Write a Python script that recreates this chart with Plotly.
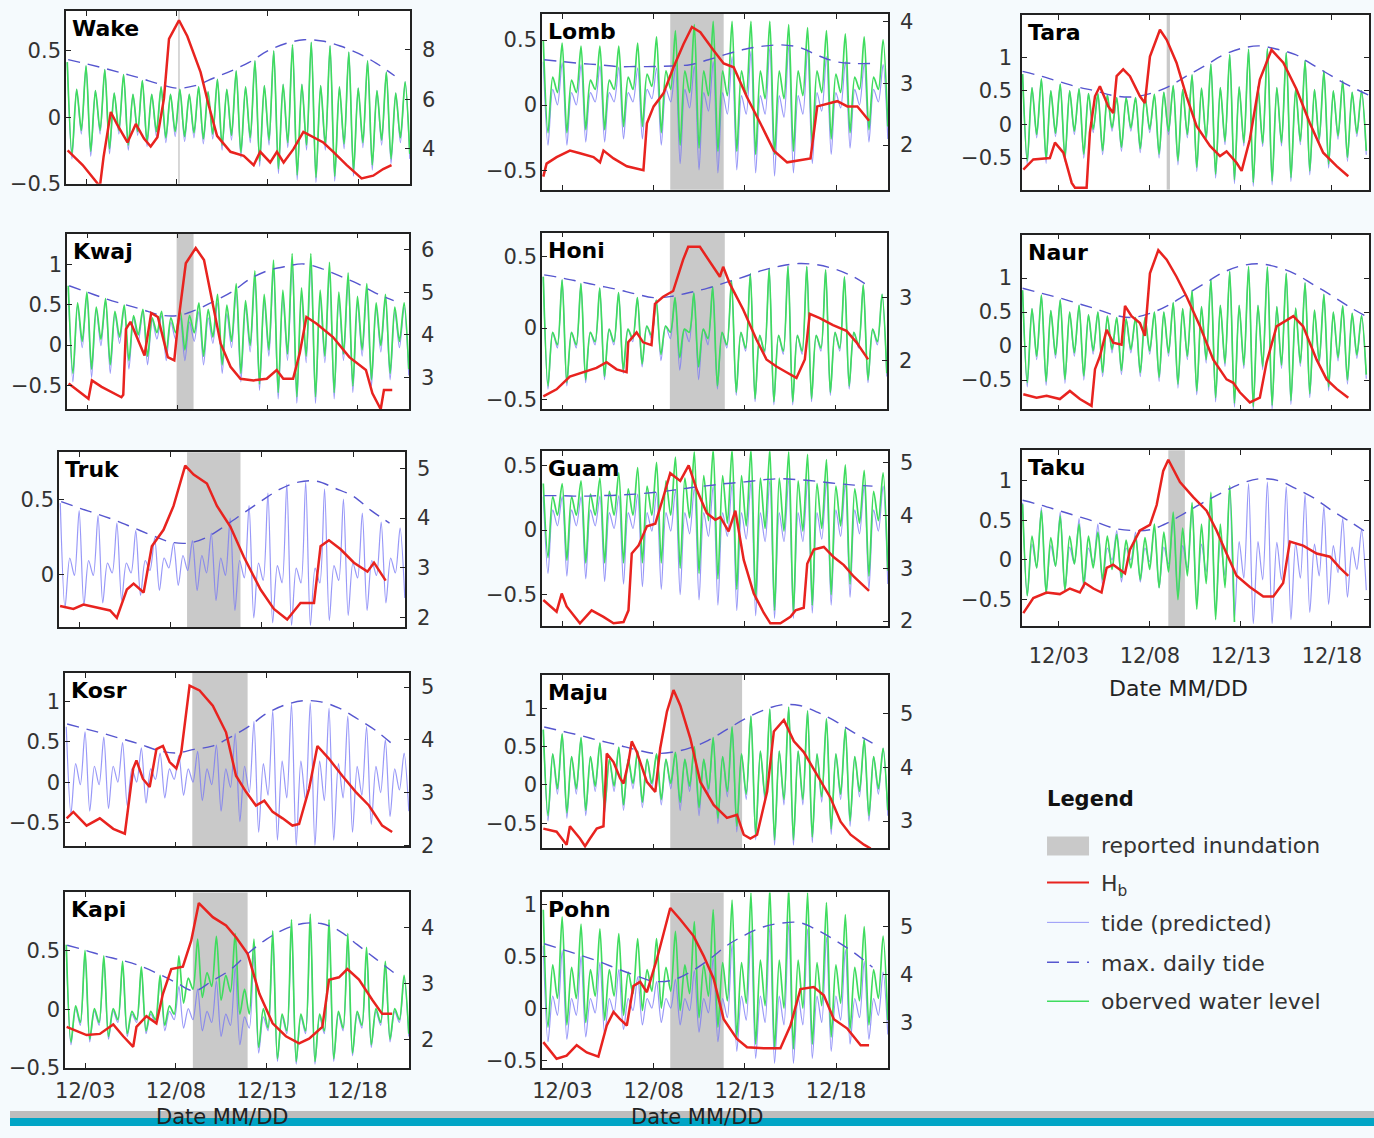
import plotly.graph_objects as go

W, H = 1374, 1138
HALF = 0.25875  # days between a high water and the following low water (semi-diurnal tide)

TICK_DAYS = [3, 8, 13, 18]
TICK_TEXT = ["12/03", "12/08", "12/13", "12/18"]
DAYS_AB = list(range(2, 21))   # sample days of max daily tide, columns 1-2
DAYS_C = list(range(1, 21))    # sample days of max daily tide, column 3

# ---------------------------------------------------------------- Wake
wake_hb = [(1.97,-0.25),(2.8,-0.36),(3.75,-0.52),(3.95,-0.3),(4.35,0.04),(4.72,-0.06),(5.27,-0.19),(5.73,-0.05),(6.18,-0.16),(6.55,-0.22),(6.92,-0.15),(7.28,0.14),(7.56,0.59),(8.11,0.73),(8.57,0.61),(9.3,0.34),(9.75,0.09),(10.21,-0.14),(10.95,-0.26),(11.68,-0.29),(12.23,-0.36),(12.59,-0.26),(13.14,-0.34),(13.51,-0.26),(13.88,-0.34),(14.42,-0.24),(14.97,-0.11),(15.52,-0.15),(16.07,-0.19),(16.62,-0.26),(17.36,-0.36),(18.18,-0.46),(18.82,-0.44),(19.37,-0.39),(19.83,-0.36)]
wake_tide_hi = [7.5,6.4, 7.35,6.35, 7.2,6.25, 7.0,6.2, 6.75,6.2, 6.5,6.2, 6.4,6.2, 6.5,6.3, 6.8,6.4, 7.15,6.5, 7.55,6.55, 7.95,6.6, 8.2,6.6, 8.3,6.55, 8.15,6.5, 7.9,6.45, 7.55,6.35, 7.1,6.25, 6.7]
wake_tide_lo = [3.6,4.6, 3.7,4.6, 3.8,4.6, 3.95,4.55, 4.1,4.5, 4.25,4.5, 4.3,4.45, 4.2,4.4, 3.95,4.35, 3.65,4.25, 3.3,4.15, 3.0,4.05, 2.75,3.95, 2.65,3.95, 2.7,4.0, 2.9,4.05, 3.15,4.15, 3.4,4.25, 3.6]
wake_obs_hi = wake_tide_hi
wake_obs_lo = [3.8,4.75, 3.9,4.75, 4.0,4.75, 4.15,4.7, 4.3,4.7, 4.45,4.7, 4.5,4.65, 4.4,4.6, 4.15,4.55, 3.85,4.45, 3.5,4.35, 3.2,4.25, 2.95,4.15, 2.85,4.15, 2.9,4.2, 3.1,4.25, 3.35,4.35, 3.6,4.45, 3.8]
wake_maxtide = [7.6, 7.43, 7.25, 7.05, 6.85, 6.62, 6.45, 6.55, 6.85, 7.15, 7.5, 7.95, 8.25, 8.4, 8.35, 8.15, 7.85, 7.45, 6.95]
wake_flood = (8.07, 8.15)

# ---------------------------------------------------------------- Kwaj
kwaj_hb = [(1.97,-0.48),(3.07,-0.67),(3.26,-0.44),(3.8,-0.52),(4.9,-0.65),(5.0,-0.62),(5.15,0.2),(5.4,0.29),(6.18,-0.13),(6.55,0.4),(6.92,0.35),(7.47,-0.15),(7.83,-0.19),(8.02,0.23),(8.47,1.02),(9.02,1.21),(9.48,1.06),(10.03,0.44),(10.4,0.02),(10.95,-0.27),(11.5,-0.42),(12.23,-0.44),(12.96,-0.42),(13.51,-0.31),(13.88,-0.42),(14.42,-0.42),(14.79,-0.1),(15.16,0.35),(15.71,0.27),(16.63,0.1),(17.54,-0.15),(18.46,-0.31),(18.82,-0.6),(19.28,-0.8),(19.46,-0.56),(19.92,-0.56)]
kwaj_tide_hi = [5.1,4.7, 4.95,4.6, 4.8,4.5, 4.65,4.4, 4.55,4.35, 4.45,4.3, 4.4,4.3, 4.55,4.4, 4.75,4.5, 5.0,4.65, 5.3,4.8, 5.5,4.9, 5.6,4.95, 5.6,4.9, 5.45,4.85, 5.25,4.75, 5.05,4.65, 4.85,4.55, 4.65]
kwaj_tide_lo = [2.9,3.7, 3.0,3.75, 3.1,3.8, 3.2,3.85, 3.3,3.9, 3.4,3.9, 3.4,3.85, 3.3,3.8, 3.1,3.7, 2.9,3.6, 2.7,3.5, 2.5,3.4, 2.4,3.35, 2.4,3.35, 2.5,3.4, 2.65,3.5, 2.8,3.6, 2.95,3.7, 3.05]
kwaj_obs_hi = [5.15,4.75, 5.0,4.65, 4.85,4.55, 4.7,4.45, 4.6,4.4, 4.55,4.4, 4.55,4.45, 4.75,4.6, 4.95,4.7, 5.2,4.8, 5.5,4.95, 5.75,5.05, 5.9,5.1, 5.9,5.05, 5.7,5.0, 5.45,4.9, 5.2,4.75, 4.95,4.65, 4.75]
kwaj_obs_lo = [3.1,3.85, 3.2,3.9, 3.3,3.95, 3.4,4.0, 3.5,4.05, 3.6,4.05, 3.65,4.05, 3.5,3.95, 3.3,3.85, 3.1,3.75, 2.85,3.65, 2.65,3.55, 2.55,3.5, 2.55,3.5, 2.65,3.55, 2.8,3.65, 2.95,3.75, 3.1,3.85, 3.2]
kwaj_maxtide = [5.15, 5.0, 4.85, 4.72, 4.6, 4.47, 4.45, 4.58, 4.78, 5.0, 5.3, 5.5, 5.6, 5.66, 5.55, 5.38, 5.2, 4.98, 4.8]
kwaj_flood = (7.96, 8.9)

# ---------------------------------------------------------------- Truk
truk_hb = [(1.94,-0.21),(2.67,-0.23),(3.22,-0.2),(3.95,-0.22),(4.68,-0.24),(5.05,-0.29),(5.6,-0.1),(5.97,-0.06),(6.52,-0.12),(6.97,0.19),(7.61,0.3),(8.16,0.46),(8.8,0.73),(9.26,0.67),(9.99,0.61),(10.54,0.46),(11.28,0.32),(12.01,0.12),(12.93,-0.1),(13.66,-0.23),(14.39,-0.3),(15.12,-0.19),(15.86,-0.19),(16.22,0.19),(16.68,0.23),(17.32,0.17),(18.05,0.08),(18.79,0.02),(19.15,0.08),(19.79,-0.04)]
truk_tide_hi = [4.3,3.2, 4.15,3.15, 4.05,3.1, 3.9,3.1, 3.75,3.15, 3.6,3.2, 3.5,3.25, 3.55,3.25, 3.7,3.2, 4.0,3.15, 4.25,3.1, 4.5,3.05, 4.68,3.0, 4.72,3.0, 4.58,3.05, 4.38,3.1, 4.1,3.15, 3.92,3.2, 3.8]
truk_tide_lo = [2.2,2.85, 2.25,2.85, 2.3,2.9, 2.35,2.9, 2.45,2.95, 2.55,3.0, 2.65,2.95, 2.55,2.9, 2.35,2.85, 2.15,2.8, 2.0,2.75, 1.9,2.7, 1.85,2.7, 1.85,2.7, 1.95,2.75, 2.05,2.8, 2.15,2.85, 2.3,2.9, 2.4]
truk_maxtide = [4.33, 4.2, 4.08, 3.95, 3.8, 3.65, 3.52, 3.5, 3.62, 3.85, 4.1, 4.35, 4.58, 4.72, 4.74, 4.6, 4.44, 4.15, 3.9]
truk_flood = (8.9, 11.83)

# ---------------------------------------------------------------- Kosr
kosr_hb = [(1.97,-0.45),(2.34,-0.37),(3.07,-0.54),(3.8,-0.45),(4.54,-0.58),(5.18,-0.64),(5.64,0.17),(5.82,0.27),(6.18,0.04),(6.55,-0.06),(6.92,0.41),(7.28,0.45),(7.65,0.25),(8.02,0.17),(8.29,0.37),(8.75,1.2),(9.3,1.14),(10.03,0.95),(10.76,0.62),(11.31,0.08),(11.86,-0.12),(12.41,-0.29),(12.87,-0.23),(13.33,-0.37),(13.88,-0.45),(14.42,-0.54),(14.79,-0.52),(15.34,-0.08),(15.8,0.45),(16.44,0.29),(17.17,0.08),(17.91,-0.12),(18.64,-0.29),(19.37,-0.54),(19.92,-0.62)]
kosr_tide_hi = [4.25,3.55, 4.15,3.5, 4.05,3.5, 3.95,3.45, 3.85,3.45, 3.75,3.45, 3.7,3.45, 3.78,3.45, 3.9,3.45, 4.12,3.5, 4.35,3.55, 4.55,3.6, 4.68,3.6, 4.7,3.6, 4.6,3.55, 4.45,3.5, 4.25,3.5, 4.0,3.45, 3.75]
kosr_tide_lo = [2.6,3.15, 2.65,3.15, 2.7,3.2, 2.75,3.2, 2.8,3.25, 2.9,3.25, 2.95,3.2, 2.85,3.15, 2.65,3.1, 2.45,3.0, 2.25,2.95, 2.1,2.9, 2.0,2.85, 2.0,2.85, 2.1,2.9, 2.25,2.95, 2.4,3.0, 2.55,3.05, 2.65]
kosr_maxtide = [4.3, 4.21, 4.12, 4.02, 3.92, 3.8, 3.75, 3.82, 3.88, 4.05, 4.25, 4.5, 4.66, 4.74, 4.72, 4.6, 4.4, 4.18, 3.9]
kosr_flood = (8.9, 11.95)

# ---------------------------------------------------------------- Kapi
kapi_hb = [(1.97,-0.15),(3.07,-0.22),(3.8,-0.21),(4.54,-0.13),(5.09,-0.23),(5.64,-0.32),(5.82,-0.15),(6.37,-0.06),(6.92,-0.12),(7.28,0.13),(7.74,0.34),(8.38,0.36),(8.84,0.58),(9.26,0.9),(10.03,0.78),(10.76,0.71),(11.31,0.61),(11.95,0.47),(12.6,0.13),(13.33,-0.12),(14.06,-0.23),(14.79,-0.29),(15.34,-0.25),(16.07,-0.15),(16.44,0.25),(16.99,0.27),(17.45,0.34),(18.09,0.25),(18.82,0.08),(19.37,-0.04),(19.92,-0.04)]
kapi_tide_hi = [3.65,2.55, 3.55,2.5, 3.45,2.5, 3.35,2.45, 3.25,2.45, 3.1,2.5, 2.95,2.55, 2.9,2.5, 3.05,2.45, 3.3,2.4, 3.55,2.4, 3.82,2.4, 4.0,2.4, 4.05,2.4, 3.98,2.45, 3.8,2.45, 3.55,2.5, 3.3,2.5, 3.1]
kapi_tide_lo = [1.9,2.25, 1.95,2.25, 2.0,2.3, 2.05,2.3, 2.1,2.3, 2.15,2.35, 2.2,2.35, 2.15,2.3, 2.05,2.25, 1.9,2.2, 1.75,2.15, 1.6,2.1, 1.55,2.1, 1.55,2.1, 1.6,2.15, 1.7,2.2, 1.85,2.25, 1.95,2.3, 2.05]
kapi_obs_hi = [3.7,2.6, 3.6,2.55, 3.5,2.55, 3.4,2.5, 3.3,2.5, 3.15,2.6, 3.5,3.1, 3.8,3.2, 3.85,3.15, 3.9,2.9, 3.8,2.55, 3.95,2.45, 4.15,2.45, 4.25,2.45, 4.15,2.5, 3.9,2.5, 3.65,2.55, 3.4,2.55, 3.15]
kapi_obs_lo = [1.95,2.3, 2.0,2.3, 2.05,2.35, 2.1,2.35, 2.15,2.35, 2.25,2.45, 2.65,2.9, 2.75,2.95, 2.7,2.85, 2.45,2.45, 1.85,2.2, 1.65,2.15, 1.6,2.15, 1.6,2.15, 1.65,2.2, 1.75,2.25, 1.9,2.3, 2.0,2.35, 2.1]
kapi_maxtide = [3.69, 3.6, 3.5, 3.42, 3.32, 3.18, 3.02, 2.87, 3.05, 3.25, 3.55, 3.8, 3.98, 4.08, 4.08, 3.95, 3.7, 3.45, 3.2]
kapi_flood = (8.93, 11.95)

# ---------------------------------------------------------------- Lomb
lomb_hb = [(1.95,-0.55),(2.13,-0.45),(2.68,-0.4),(3.41,-0.35),(3.96,-0.37),(4.7,-0.4),(5.06,-0.44),(5.25,-0.35),(5.8,-0.41),(6.53,-0.47),(7.44,-0.5),(7.63,-0.14),(8.0,-0.01),(8.54,0.09),(9.09,0.29),(9.64,0.47),(10.1,0.6),(10.56,0.56),(11.29,0.42),(11.84,0.32),(12.39,0.29),(13.12,0.06),(13.85,-0.14),(14.59,-0.35),(15.32,-0.44),(16.05,-0.42),(16.6,-0.41),(16.97,-0.01),(17.52,0.01),(18.07,0.03),(18.62,-0.01),(19.17,-0.01),(19.81,-0.12)]
lomb_tide_hi = [3.35,2.9, 3.33,2.85, 3.3,2.85, 3.28,2.85, 3.26,2.85, 3.25,2.9, 3.25,2.9, 3.26,2.9, 3.28,2.85, 3.35,2.85, 3.43,2.8, 3.52,2.8, 3.58,2.8, 3.6,2.8, 3.55,2.85, 3.43,2.85, 3.35,2.9, 3.32,2.9, 3.3]
lomb_tide_lo = [2.0,2.65, 2.0,2.65, 2.05,2.7, 2.05,2.7, 2.1,2.7, 2.1,2.75, 2.0,2.7, 1.7,2.6, 1.6,2.55, 1.55,2.5, 1.6,2.5, 1.55,2.5, 1.5,2.45, 1.55,2.5, 1.7,2.55, 1.85,2.6, 1.95,2.65, 2.05,2.7, 2.1]
lomb_obs_hi = [3.7,3.1, 3.65,3.05, 3.6,3.05, 3.6,3.05, 3.6,3.1, 3.65,3.15, 3.75,3.2, 3.85,3.2, 3.95,3.2, 4.0,3.2, 4.0,3.2, 4.0,3.2, 4.0,3.2, 3.95,3.2, 3.9,3.2, 3.85,3.15, 3.8,3.1, 3.75,3.1, 3.7]
lomb_obs_lo = [2.2,2.85, 2.2,2.85, 2.25,2.9, 2.25,2.9, 2.3,2.9, 2.3,2.95, 2.2,2.9, 2.0,2.85, 1.95,2.8, 1.9,2.8, 1.9,2.8, 1.85,2.75, 1.85,2.75, 1.9,2.8, 2.0,2.85, 2.1,2.85, 2.2,2.9, 2.25,2.9, 2.3]
lomb_maxtide = [3.38, 3.35, 3.32, 3.3, 3.27, 3.27, 3.27, 3.28, 3.3, 3.38, 3.47, 3.55, 3.6, 3.62, 3.58, 3.45, 3.35, 3.32, 3.32]
lomb_flood = (8.91, 11.84)

# ---------------------------------------------------------------- Honi
honi_hb = [(1.95,-0.48),(2.68,-0.43),(3.41,-0.34),(4.15,-0.31),(4.88,-0.28),(5.43,-0.24),(5.98,-0.29),(6.53,-0.31),(6.62,-0.1),(7.08,-0.03),(7.44,-0.1),(7.9,-0.12),(8.09,0.17),(8.54,0.22),(9.09,0.26),(9.64,0.48),(9.92,0.57),(10.56,0.57),(11.29,0.43),(11.66,0.36),(11.84,0.43),(12.21,0.31),(12.94,0.13),(13.67,-0.08),(14.22,-0.22),(14.77,-0.27),(15.32,-0.31),(15.87,-0.35),(16.33,-0.22),(16.6,0.1),(17.15,0.07),(17.88,0.02),(18.62,-0.02),(19.17,-0.1),(19.81,-0.22)]
honi_tide_hi = [3.33,2.45, 3.28,2.45, 3.22,2.45, 3.15,2.5, 3.08,2.5, 3.0,2.55, 2.96,2.55, 3.0,2.5, 3.07,2.5, 3.17,2.45, 3.27,2.45, 3.38,2.4, 3.46,2.4, 3.5,2.4, 3.49,2.4, 3.44,2.45, 3.33,2.45, 3.2,2.5, 3.05]
honi_tide_lo = [1.55,2.2, 1.6,2.2, 1.65,2.25, 1.7,2.25, 1.8,2.3, 1.9,2.35, 2.0,2.35, 1.85,2.3, 1.7,2.25, 1.55,2.2, 1.45,2.15, 1.35,2.1, 1.3,2.1, 1.3,2.1, 1.35,2.15, 1.45,2.15, 1.55,2.2, 1.65,2.25, 1.75]
honi_obs_hi = honi_tide_hi
honi_obs_lo = [1.6,2.25, 1.65,2.25, 1.7,2.3, 1.75,2.3, 1.85,2.35, 1.95,2.4, 2.1,2.45, 2.05,2.45, 1.9,2.35, 1.6,2.25, 1.5,2.2, 1.4,2.15, 1.35,2.15, 1.35,2.15, 1.4,2.2, 1.5,2.2, 1.6,2.25, 1.7,2.3, 1.8]
honi_maxtide = [3.36, 3.31, 3.25, 3.19, 3.13, 3.06, 3.0, 3.02, 3.08, 3.15, 3.24, 3.33, 3.43, 3.5, 3.54, 3.52, 3.45, 3.33, 3.15]
honi_flood = (8.91, 11.93)

# ---------------------------------------------------------------- Guam
guam_hb = [(1.95,-0.54),(2.68,-0.63),(2.96,-0.49),(3.23,-0.59),(3.96,-0.72),(4.6,-0.62),(5.25,-0.67),(5.8,-0.72),(6.35,-0.71),(6.62,-0.62),(6.8,-0.18),(7.17,-0.12),(7.63,0.03),(8.09,0.05),(8.54,0.26),(8.91,0.44),(9.46,0.38),(9.92,0.5),(10.37,0.31),(10.92,0.13),(11.38,0.08),(11.66,0.1),(12.11,-0.01),(12.48,0.15),(12.94,-0.23),(13.49,-0.49),(14.04,-0.64),(14.4,-0.72),(14.95,-0.72),(15.5,-0.67),(15.78,-0.62),(16.23,-0.6),(16.42,-0.26),(16.78,-0.15),(17.33,-0.13),(17.88,-0.21),(18.43,-0.27),(18.98,-0.36),(19.81,-0.47)]
guam_tide_hi = [4.35,4.1, 4.35,4.1, 4.35,4.1, 4.36,4.05, 4.37,4.05, 4.4,4.05, 4.43,4.05, 4.47,4.05, 4.52,4.05, 4.56,4.05, 4.6,4.05, 4.63,4.05, 4.66,4.05, 4.68,4.05, 4.66,4.05, 4.63,4.1, 4.6,4.1, 4.57,4.1, 4.55]
guam_tide_lo = [2.9,3.8, 2.85,3.8, 2.8,3.8, 2.75,3.75, 2.7,3.75, 2.65,3.7, 2.6,3.7, 2.5,3.65, 2.4,3.6, 2.3,3.6, 2.2,3.55, 2.1,3.5, 2.05,3.5, 2.05,3.5, 2.15,3.55, 2.3,3.6, 2.45,3.65, 2.6,3.7, 2.7]
guam_obs_hi = [4.6,4.35, 4.6,4.35, 4.65,4.4, 4.7,4.45, 4.8,4.5, 4.9,4.55, 5.0,4.65, 5.1,4.7, 5.2,4.75, 5.25,4.75, 5.25,4.75, 5.25,4.7, 5.25,4.7, 5.2,4.65, 5.15,4.6, 5.05,4.55, 4.95,4.5, 4.85,4.45, 4.8]
guam_obs_lo = [3.2,4.0, 3.15,4.0, 3.1,4.0, 3.1,4.0, 3.1,4.0, 3.1,4.0, 3.1,4.0, 3.0,3.95, 2.9,3.9, 2.8,3.85, 2.6,3.8, 2.4,3.75, 2.2,3.7, 2.15,3.7, 2.3,3.75, 2.5,3.8, 2.7,3.85, 2.85,3.9, 2.95]
guam_maxtide = [4.37, 4.37, 4.36, 4.37, 4.38, 4.4, 4.43, 4.47, 4.52, 4.56, 4.6, 4.63, 4.67, 4.69, 4.67, 4.64, 4.6, 4.57, 4.55]
guam_flood = None

# ---------------------------------------------------------------- Maju
maju_hb = [(1.95,-0.57),(2.68,-0.61),(3.23,-0.78),(3.41,-0.54),(3.96,-0.7),(4.24,-0.8),(4.51,-0.7),(4.88,-0.57),(5.25,-0.54),(5.43,0.41),(5.8,0.3),(6.16,0.09),(6.35,0.02),(6.62,0.3),(6.8,0.57),(7.08,0.43),(7.63,0.04),(8.09,-0.09),(8.36,0.48),(8.73,0.96),(9.09,1.24),(9.46,1.04),(10.01,0.61),(10.56,0.04),(11.29,-0.26),(12.02,-0.43),(12.57,-0.39),(12.94,-0.65),(13.3,-0.7),(13.67,-0.65),(14.22,-0.09),(14.59,0.7),(15.14,0.85),(15.69,0.57),(16.23,0.43),(16.97,0.13),(17.7,-0.17),(18.25,-0.48),(18.8,-0.65),(19.53,-0.78),(19.9,-0.83)]
maju_tide_hi = [4.7,4.25, 4.62,4.2, 4.55,4.2, 4.45,4.15, 4.37,4.15, 4.3,4.15, 4.25,4.15, 4.28,4.15, 4.38,4.15, 4.55,4.2, 4.75,4.25, 4.95,4.3, 5.08,4.3, 5.12,4.3, 5.05,4.25, 4.9,4.25, 4.72,4.2, 4.52,4.2, 4.35]
maju_tide_lo = [3.0,3.5, 3.05,3.5, 3.1,3.55, 3.15,3.55, 3.2,3.6, 3.25,3.6, 3.3,3.6, 3.2,3.55, 3.1,3.5, 2.95,3.45, 2.8,3.4, 2.65,3.35, 2.55,3.3, 2.55,3.3, 2.6,3.35, 2.75,3.4, 2.9,3.45, 3.0,3.5, 3.1]
maju_obs_hi = maju_tide_hi
maju_obs_lo = [3.1,3.6, 3.15,3.6, 3.2,3.65, 3.25,3.65, 3.3,3.7, 3.35,3.7, 3.4,3.7, 3.35,3.65, 3.25,3.6, 3.05,3.55, 2.9,3.5, 2.75,3.45, 2.65,3.4, 2.65,3.4, 2.7,3.45, 2.85,3.5, 3.0,3.55, 3.1,3.6, 3.2]
maju_maxtide = [4.75, 4.67, 4.59, 4.5, 4.42, 4.33, 4.26, 4.28, 4.36, 4.5, 4.7, 4.9, 5.06, 5.16, 5.15, 5.02, 4.85, 4.64, 4.45]
maju_flood = (8.91, 12.85)

# ---------------------------------------------------------------- Pohn
pohn_hb = [(1.95,-0.32),(2.68,-0.48),(3.23,-0.45),(3.78,-0.35),(4.33,-0.42),(4.97,-0.46),(5.43,-0.16),(5.8,-0.03),(6.16,-0.1),(6.53,-0.16),(6.89,0.22),(7.26,0.26),(7.63,0.16),(8.18,0.48),(8.91,0.97),(9.46,0.86),(10.19,0.7),(10.74,0.51),(11.29,0.29),(11.84,-0.1),(12.57,-0.29),(13.12,-0.37),(14.04,-0.38),(14.95,-0.38),(15.5,-0.16),(16.05,0.19),(16.78,0.21),(17.33,0.13),(17.88,-0.1),(18.62,-0.19),(19.35,-0.35),(19.81,-0.35)]
pohn_tide_hi = [4.6,3.55, 4.5,3.5, 4.38,3.5, 4.25,3.5, 4.1,3.5, 3.95,3.5, 3.85,3.5, 3.9,3.5, 4.08,3.5, 4.35,3.5, 4.65,3.55, 4.88,3.55, 5.0,3.55, 5.05,3.55, 4.95,3.55, 4.78,3.55, 4.52,3.5, 4.28,3.5, 4.05]
pohn_tide_lo = [2.6,3.15, 2.65,3.15, 2.7,3.2, 2.75,3.2, 2.85,3.25, 2.95,3.3, 3.0,3.3, 2.95,3.25, 2.8,3.2, 2.6,3.1, 2.4,3.05, 2.25,3.0, 2.15,2.95, 2.15,2.95, 2.25,3.0, 2.4,3.05, 2.55,3.1, 2.65,3.15, 2.75]
pohn_obs_hi = [5.35,4.2, 5.2,4.15, 5.05,4.1, 4.95,4.1, 4.85,4.05, 4.75,4.1, 4.75,4.15, 4.9,4.2, 5.1,4.2, 5.35,4.25, 5.55,4.25, 5.7,4.3, 5.8,4.3, 5.8,4.3, 5.7,4.25, 5.5,4.2, 5.25,4.15, 5.0,4.1, 4.8]
pohn_obs_lo = [2.9,3.5, 2.95,3.5, 3.0,3.55, 3.05,3.55, 3.15,3.6, 3.25,3.65, 3.3,3.65, 3.25,3.6, 3.1,3.55, 2.9,3.45, 2.7,3.4, 2.55,3.35, 2.45,3.3, 2.45,3.3, 2.55,3.35, 2.7,3.4, 2.85,3.45, 2.95,3.5, 3.05]
pohn_maxtide = [4.64, 4.52, 4.4, 4.27, 4.12, 3.98, 3.86, 3.88, 4.05, 4.3, 4.6, 4.82, 4.99, 5.07, 5.08, 4.92, 4.7, 4.45, 4.15]
pohn_flood = (8.91, 11.84)

# ---------------------------------------------------------------- Tara
tara_hb = [(1.04,-0.67),(1.59,-0.52),(2.5,-0.5),(2.78,-0.27),(3.24,-0.42),(3.7,-0.87),(3.88,-0.94),(4.52,-0.94),(4.7,-0.12),(4.98,0.42),(5.25,0.57),(5.71,0.27),(5.98,0.17),(6.17,0.72),(6.53,0.82),(6.9,0.72),(7.45,0.42),(7.72,0.32),(8.0,1.01),(8.55,1.41),(8.92,1.26),(9.46,0.92),(10.01,0.42),(10.56,-0.02),(11.3,-0.32),(11.85,-0.47),(12.21,-0.4),(12.76,-0.57),(13.04,-0.69),(13.49,-0.22),(14.04,0.67),(14.68,1.11),(15.33,0.92),(16.06,0.52),(16.79,0.02),(17.52,-0.42),(18.26,-0.62),(18.9,-0.77)]
tara_tide_hi = [0.75,0.55, 0.68,0.5, 0.6,0.5, 0.53,0.46, 0.46,0.44, 0.4,0.4, 0.4,0.42, 0.45,0.48, 0.58,0.52, 0.74,0.54, 0.9,0.55, 1.04,0.56, 1.12,0.56, 1.13,0.55, 1.07,0.53, 0.95,0.52, 0.8,0.5, 0.65,0.48, 0.5]
tara_tide_lo = [-0.6,-0.2, -0.58,-0.18, -0.55,-0.15, -0.5,-0.12, -0.45,-0.1, -0.4,-0.1, -0.42,-0.12, -0.5,-0.15, -0.6,-0.2, -0.7,-0.25, -0.8,-0.3, -0.88,-0.32, -0.92,-0.33, -0.9,-0.32, -0.85,-0.3, -0.75,-0.27, -0.65,-0.22, -0.55,-0.18, -0.45]
tara_obs_hi = tara_tide_hi
tara_obs_lo = [-0.54,-0.15, -0.52,-0.13, -0.49,-0.1, -0.44,-0.07, -0.39,-0.05, -0.34,-0.05, -0.36,-0.07, -0.44,-0.1, -0.54,-0.15, -0.64,-0.2, -0.74,-0.25, -0.82,-0.27, -0.86,-0.28, -0.84,-0.27, -0.79,-0.25, -0.69,-0.22, -0.59,-0.17, -0.49,-0.13, -0.39]
tara_maxtide = [0.79, 0.72, 0.64, 0.56, 0.5, 0.43, 0.41, 0.46, 0.56, 0.72, 0.87, 1.03, 1.13, 1.17, 1.12, 1.04, 0.88, 0.72, 0.57, 0.44]
tara_flood = (8.92, 9.1)

# ---------------------------------------------------------------- Naur
naur_hb = [(1.04,-0.71),(1.77,-0.76),(2.32,-0.73),(3.05,-0.78),(3.6,-0.66),(4.15,-0.78),(4.79,-0.88),(4.98,-0.34),(5.25,-0.15),(5.62,0.24),(5.98,0.05),(6.44,0.02),(6.63,0.59),(6.99,0.44),(7.45,0.34),(7.72,0.15),(8.0,1.07),(8.46,1.41),(8.92,1.27),(9.46,1.02),(10.01,0.73),(10.75,0.29),(11.48,-0.2),(12.21,-0.49),(12.58,-0.54),(12.94,-0.68),(13.49,-0.83),(14.04,-0.76),(14.41,-0.24),(14.96,0.29),(15.88,0.44),(16.42,0.29),(17.16,-0.2),(17.71,-0.49),(18.26,-0.63),(18.9,-0.76)]
naur_tide_hi = [0.82,0.55, 0.75,0.52, 0.68,0.5, 0.6,0.46, 0.5,0.44, 0.42,0.4, 0.42,0.42, 0.5,0.5, 0.64,0.55, 0.82,0.58, 0.98,0.6, 1.1,0.6, 1.17,0.6, 1.16,0.58, 1.07,0.56, 0.93,0.53, 0.76,0.5, 0.59,0.48, 0.45]
naur_tide_lo = [-0.6,-0.2, -0.58,-0.18, -0.55,-0.15, -0.5,-0.12, -0.45,-0.1, -0.42,-0.1, -0.45,-0.12, -0.52,-0.15, -0.62,-0.2, -0.72,-0.25, -0.82,-0.3, -0.9,-0.33, -0.95,-0.35, -0.93,-0.33, -0.86,-0.3, -0.76,-0.27, -0.66,-0.22, -0.56,-0.18, -0.48]
naur_obs_hi = naur_tide_hi
naur_obs_lo = [-0.54,-0.15, -0.52,-0.13, -0.49,-0.1, -0.44,-0.07, -0.39,-0.05, -0.36,-0.05, -0.39,-0.07, -0.46,-0.1, -0.56,-0.15, -0.66,-0.2, -0.76,-0.25, -0.84,-0.28, -0.89,-0.3, -0.87,-0.28, -0.8,-0.25, -0.7,-0.22, -0.6,-0.17, -0.5,-0.13, -0.42]
naur_maxtide = [0.85, 0.78, 0.71, 0.63, 0.55, 0.46, 0.42, 0.48, 0.6, 0.76, 0.92, 1.08, 1.18, 1.21, 1.16, 1.06, 0.9, 0.74, 0.57, 0.42]
naur_flood = None

# ---------------------------------------------------------------- Taku
taku_hb = [(1.04,-0.67),(1.59,-0.48),(2.32,-0.41),(3.05,-0.43),(3.6,-0.36),(4.15,-0.41),(4.43,-0.29),(4.89,-0.36),(5.34,-0.41),(5.62,-0.1),(5.98,-0.06),(6.63,-0.17),(6.9,0.13),(7.45,0.37),(8.0,0.44),(8.37,0.69),(8.73,1.12),(9.01,1.26),(9.65,0.98),(10.38,0.79),(11.11,0.62),(11.66,0.37),(12.21,0.08),(12.76,-0.2),(13.49,-0.34),(14.23,-0.46),(14.78,-0.46),(15.32,-0.29),(15.69,0.23),(16.42,0.18),(17.16,0.08),(17.89,0.04),(18.44,-0.1),(18.9,-0.2)]
taku_tide_hi = [0.72,0.2, 0.66,0.18, 0.6,0.16, 0.52,0.15, 0.45,0.15, 0.37,0.15, 0.35,0.15, 0.4,0.16, 0.5,0.18, 0.64,0.2, 0.77,0.22, 0.89,0.23, 0.96,0.23, 0.98,0.22, 0.92,0.21, 0.82,0.2, 0.67,0.18, 0.52,0.16, 0.38]
taku_tide_lo = [-0.45,-0.1, -0.43,-0.08, -0.4,-0.05, -0.36,-0.03, -0.32,0.0, -0.28,0.0, -0.28,-0.02, -0.35,-0.05, -0.45,-0.1, -0.56,-0.15, -0.66,-0.2, -0.75,-0.23, -0.8,-0.25, -0.8,-0.25, -0.75,-0.23, -0.66,-0.2, -0.56,-0.16, -0.47,-0.12, -0.38]
taku_obs_hi = [0.7,0.3, 0.62,0.28, 0.55,0.3, 0.45,0.3, 0.35,0.3, 0.32,0.25, 0.3,0.28, 0.45,0.35, 0.6,0.4, 0.72,0.45, 0.85,0.45, 0.93]
taku_obs_lo = [-0.45,-0.1, -0.42,-0.08, -0.38,-0.05, -0.3,-0.1, -0.25,-0.12, -0.22,-0.1, -0.25,-0.12, -0.35,-0.15, -0.5,-0.2, -0.62,-0.3, -0.75,-0.35, -0.78]
taku_maxtide = [0.75, 0.69, 0.62, 0.55, 0.48, 0.4, 0.37, 0.38, 0.47, 0.6, 0.73, 0.85, 0.96, 1.02, 1.0, 0.9, 0.78, 0.62, 0.48, 0.33]
taku_flood = (9.01, 9.92)

# ---------------------------------------------------------------- panel table
XR_AB = [1.88, 20.85]
XR_C = [0.97, 20.04]
LT4 = [-0.5, 0, 0.5, 1]
LT3 = [-0.5, 0, 0.5]

PANELS = [
    dict(name="Wake", hb=wake_hb, th=wake_tide_hi, tl=wake_tide_lo, oh=wake_obs_hi, ol=wake_obs_lo, mx=wake_maxtide, fl=wake_flood,
         box=(66, 410, 9, 182), lr=[-0.5, 0.8], lt=LT3, rr=[2.6, 9.56], rt=[4, 6, 8], col=1, xlab=False),
    dict(name="Kwaj", hb=kwaj_hb, th=kwaj_tide_hi, tl=kwaj_tide_lo, oh=kwaj_obs_hi, ol=kwaj_obs_lo, mx=kwaj_maxtide, fl=kwaj_flood,
         box=(67, 409, 232, 408), lr=[-0.80, 1.39], lt=LT4, rr=[2.26, 6.37], rt=[3, 4, 5, 6], col=1, xlab=False),
    dict(name="Truk", hb=truk_hb, th=truk_tide_hi, tl=truk_tide_lo, oh=None, ol=None, mx=truk_maxtide, fl=truk_flood,
         box=(59, 405, 451, 626), lr=[-0.35, 0.82], lt=[0, 0.5], rr=[1.82, 5.32], rt=[2, 3, 4, 5], col=1, xlab=False),
    dict(name="Kosr", hb=kosr_hb, th=kosr_tide_hi, tl=kosr_tide_lo, oh=None, ol=None, mx=kosr_maxtide, fl=kosr_flood,
         box=(65, 409, 672, 846), lr=[-0.8, 1.36], lt=LT4, rr=[1.98, 5.27], rt=[2, 3, 4, 5], col=1, xlab=False),
    dict(name="Kapi", hb=kapi_hb, th=kapi_tide_hi, tl=kapi_tide_lo, oh=kapi_obs_hi, ol=kapi_obs_lo, mx=kapi_maxtide, fl=kapi_flood,
         box=(65, 409, 892, 1068), lr=[-0.5, 0.99], lt=LT3, rr=[1.48, 4.64], rt=[2, 3, 4], col=1, xlab=True),
    dict(name="Lomb", hb=lomb_hb, th=lomb_tide_hi, tl=lomb_tide_lo, oh=lomb_obs_hi, ol=lomb_obs_lo, mx=lomb_maxtide, fl=lomb_flood,
         box=(542, 888, 12, 188), lr=[-0.65, 0.7], lt=LT3, rr=[1.28, 4.12], rt=[2, 3, 4], col=2, xlab=False),
    dict(name="Honi", hb=honi_hb, th=honi_tide_hi, tl=honi_tide_lo, oh=honi_obs_hi, ol=honi_obs_lo, mx=honi_maxtide, fl=honi_flood,
         box=(542, 887, 231, 408), lr=[-0.57, 0.67], lt=LT3, rr=[1.23, 4.03], rt=[2, 3], col=2, xlab=False),
    dict(name="Guam", hb=guam_hb, th=guam_tide_hi, tl=guam_tide_lo, oh=guam_obs_hi, ol=guam_obs_lo, mx=guam_maxtide, fl=guam_flood,
         box=(542, 888, 450, 625), lr=[-0.74, 0.61], lt=LT3, rr=[1.91, 5.21], rt=[2, 3, 4, 5], col=2, xlab=False),
    dict(name="Maju", hb=maju_hb, th=maju_tide_hi, tl=maju_tide_lo, oh=maju_obs_hi, ol=maju_obs_lo, mx=maju_maxtide, fl=maju_flood,
         box=(542, 888, 674, 848), lr=[-0.83, 1.44], lt=LT4, rr=[2.49, 5.72], rt=[3, 4, 5], col=2, xlab=False),
    dict(name="Pohn", hb=pohn_hb, th=pohn_tide_hi, tl=pohn_tide_lo, oh=pohn_obs_hi, ol=pohn_obs_lo, mx=pohn_maxtide, fl=pohn_flood,
         box=(542, 888, 892, 1068), lr=[-0.57, 1.12], lt=LT4, rr=[2.05, 5.71], rt=[3, 4, 5], col=2, xlab=True),
    dict(name="Tara", hb=tara_hb, th=tara_tide_hi, tl=tara_tide_lo, oh=tara_obs_hi, ol=tara_obs_lo, mx=tara_maxtide, fl=tara_flood,
         box=(1022, 1369, 13, 188), lr=[-0.97, 1.63], lt=LT4, rr=None, rt=None, col=3, xlab=False),
    dict(name="Naur", hb=naur_hb, th=naur_tide_hi, tl=naur_tide_lo, oh=naur_obs_hi, ol=naur_obs_lo, mx=naur_maxtide, fl=naur_flood,
         box=(1022, 1369, 233, 408), lr=[-0.93, 1.64], lt=LT4, rr=None, rt=None, col=3, xlab=False),
    dict(name="Taku", hb=taku_hb, th=taku_tide_hi, tl=taku_tide_lo, oh=taku_obs_hi, ol=taku_obs_lo, mx=taku_maxtide, fl=taku_flood,
         box=(1022, 1369, 449, 625), lr=[-0.83, 1.38], lt=LT4, rr=None, rt=None, col=3, xlab=True),
]

RED = "#e8231f"
BLUE = "rgba(118,118,245,0.75)"
GREEN = "#3fdc5e"
DASHC = "#5656cf"
SHADE = "#c9c9c9"
FONT = "DejaVu Sans"

# page placement: the photographed page shows the figure slightly shifted/squeezed,
# so target pixel positions are mapped back into figure pixels here.
OX, SX = 10.0, 0.9927
OY, SY = 2.0, 0.9877


def fx(P):
    return (P - OX) / SX


def fy(P):
    return (P - OY) / SY


def px(P):
    return min(max(fx(P) / W, 0.0), 1.0)


def py(P):
    return min(max(1 - fy(P) / H, 0.0), 1.0)


def tide_xy(t0, hi, lo):
    xs, ys = [], []
    for k, h in enumerate(hi):
        xs.append(t0 + 2 * k * HALF)
        ys.append(h)
        if k < len(lo):
            xs.append(t0 + (2 * k + 1) * HALF)
            ys.append(lo[k])
    return xs, ys


def fmt(v):
    if v == 0:
        return "0"
    s = ("%g" % abs(v))
    return ("\u2212" + s) if v < 0 else s


def akey(n, a):
    return f"{a}axis" if n == 1 else f"{a}axis{n}"


def aref(n, a):
    return a if n == 1 else f"{a}{n}"


COMMON = dict(showgrid=False, zeroline=False, ticks="inside", ticklen=5, tickwidth=1,
              tickcolor="#222", tickfont=dict(family=FONT, size=21, color="#333"))

fig = go.Figure()
layout = dict(width=W, height=H, margin=dict(l=0, r=0, t=0, b=0),
              paper_bgcolor="#f5fafd", plot_bgcolor="white", showlegend=False,
              font=dict(family=FONT, size=21, color="#333"))
shapes, annotations = [], []
NP = len(PANELS)

for p, P in enumerate(PANELS, 1):
    x0, x1, y0, y1 = P["box"]
    dx = [px(x0), px(x1)]
    dy = [py(y1), py(y0)]
    xr, ym = aref(p, "x"), aref(p, "y")
    xrange_ = XR_C if P["col"] == 3 else XR_AB
    t0 = 1.0 if P["col"] == 3 else 1.95
    days = DAYS_C if P["col"] == 3 else DAYS_AB
    standoff = 10 if P["col"] == 3 else 3

    layout[akey(p, "x")] = dict(domain=dx, anchor=ym, range=xrange_, tickvals=TICK_DAYS, ticktext=TICK_TEXT,
                                showticklabels=P["xlab"], showline=True, linecolor="#222", linewidth=1.5,
                                mirror="ticks", ticklabelstandoff=standoff, **COMMON)
    if P["rr"] is not None:
        layout[akey(p, "y")] = dict(domain=dy, anchor=xr, side="right", range=P["rr"], tickvals=P["rt"],
                                    ticktext=[fmt(v) for v in P["rt"]], showline=True, linecolor="#222",
                                    linewidth=1.5, mirror=True, ticklabelstandoff=6, **COMMON)
        layout[akey(p + NP, "y")] = dict(overlaying=ym, anchor=xr, side="left", range=P["lr"], tickvals=P["lt"],
                                         ticktext=[fmt(v) for v in P["lt"]], showline=False,
                                         ticklabelstandoff=4, **COMMON)
        hb_axis = aref(p + NP, "y")
    else:
        layout[akey(p, "y")] = dict(domain=dy, anchor=xr, side="left", range=P["lr"], tickvals=P["lt"],
                                    ticktext=[fmt(v) for v in P["lt"]], showline=True, linecolor="#222",
                                    linewidth=1.5, mirror="ticks", ticklabelstandoff=4, **COMMON)
        hb_axis = ym

    # reported inundation
    if P["fl"] is not None:
        shapes.append(dict(type="rect", xref=xr, yref=f"{ym} domain", x0=P["fl"][0], x1=P["fl"][1], y0=0, y1=1,
                           fillcolor=SHADE, line=dict(width=0), layer="below"))

    # predicted tide
    tx, ty = tide_xy(t0, P["th"], P["tl"])
    fig.add_trace(go.Scatter(x=tx, y=ty, mode="lines", xaxis=xr, yaxis=ym, hoverinfo="skip",
                             line=dict(color=BLUE, width=1.2, shape="spline", smoothing=0.8)))
    # observed water level
    if P["oh"] is not None:
        ox, oy = tide_xy(t0, P["oh"], P["ol"])
        fig.add_trace(go.Scatter(x=ox, y=oy, mode="lines", xaxis=xr, yaxis=ym, hoverinfo="skip",
                                 line=dict(color=GREEN, width=1.7, shape="spline", smoothing=0.8)))
    # max daily tide
    fig.add_trace(go.Scatter(x=days, y=P["mx"], mode="lines", xaxis=xr, yaxis=ym, hoverinfo="skip",
                             line=dict(color=DASHC, width=1.4, dash="12px,8px", shape="spline")))
    # Hb
    fig.add_trace(go.Scatter(x=[a for a, _ in P["hb"]], y=[b for _, b in P["hb"]], mode="lines",
                             xaxis=xr, yaxis=hb_axis, hoverinfo="skip",
                             line=dict(color=RED, width=2.5)))

    annotations.append(dict(xref="paper", yref="paper", x=px(x0 + 4), y=py(y0 + 3),
                            xanchor="left", yanchor="top", showarrow=False,
                            text=f"<b>{P['name']}</b>", font=dict(family=FONT, size=22, color="black")))

# axis titles (bottom ones kept fully inside the visible page)
for cx, cy, fs in [(222, 1117, 21), (697, 1117, 21), (1178, 688, 22)]:
    annotations.append(dict(xref="paper", yref="paper", x=px(cx), y=py(cy), xanchor="center", yanchor="middle",
                            showarrow=False, text="Date MM/DD", font=dict(family=FONT, size=fs, color="#222")))

# footer bands
shapes.append(dict(type="rect", xref="paper", yref="paper", x0=0, x1=1, y0=py(1118), y1=py(1111),
                   fillcolor="#bdbdbd", line=dict(width=0), layer="below"))
shapes.append(dict(type="rect", xref="paper", yref="paper", x0=0, x1=1, y0=0, y1=py(1118),
                   fillcolor="#00a5c6", line=dict(width=0), layer="below"))

# legend (drawn manually)
annotations.append(dict(xref="paper", yref="paper", x=px(1045), y=py(798), xanchor="left", yanchor="middle",
                        showarrow=False, text="<b>Legend</b>", font=dict(family=FONT, size=21, color="#111")))
shapes.append(dict(type="rect", xref="paper", yref="paper", x0=px(1047), x1=px(1089), y0=py(855), y1=py(836),
                   fillcolor=SHADE, line=dict(width=0)))
shapes.append(dict(type="line", xref="paper", yref="paper", x0=px(1047), x1=px(1089), y0=py(882), y1=py(882),
                   line=dict(color=RED, width=2)))
shapes.append(dict(type="line", xref="paper", yref="paper", x0=px(1047), x1=px(1089), y0=py(922), y1=py(922),
                   line=dict(color=BLUE, width=1)))
shapes.append(dict(type="line", xref="paper", yref="paper", x0=px(1047), x1=px(1089), y0=py(962), y1=py(962),
                   line=dict(color=DASHC, width=1.4, dash="12px,8px")))
shapes.append(dict(type="line", xref="paper", yref="paper", x0=px(1047), x1=px(1089), y0=py(1001), y1=py(1001),
                   line=dict(color=GREEN, width=1.5)))
for txt, yy in [("reported inundation", 845), ("H<sub>b</sub>", 885), ("tide (predicted)", 923),
                ("max. daily tide", 963), ("oberved water level", 1001)]:
    annotations.append(dict(xref="paper", yref="paper", x=px(1099), y=py(yy), xanchor="left", yanchor="middle",
                            showarrow=False, text=txt, font=dict(family=FONT, size=22, color="#333")))

layout["shapes"] = shapes
layout["annotations"] = annotations
fig.update_layout(**layout)
fig.write_html("out.html")
